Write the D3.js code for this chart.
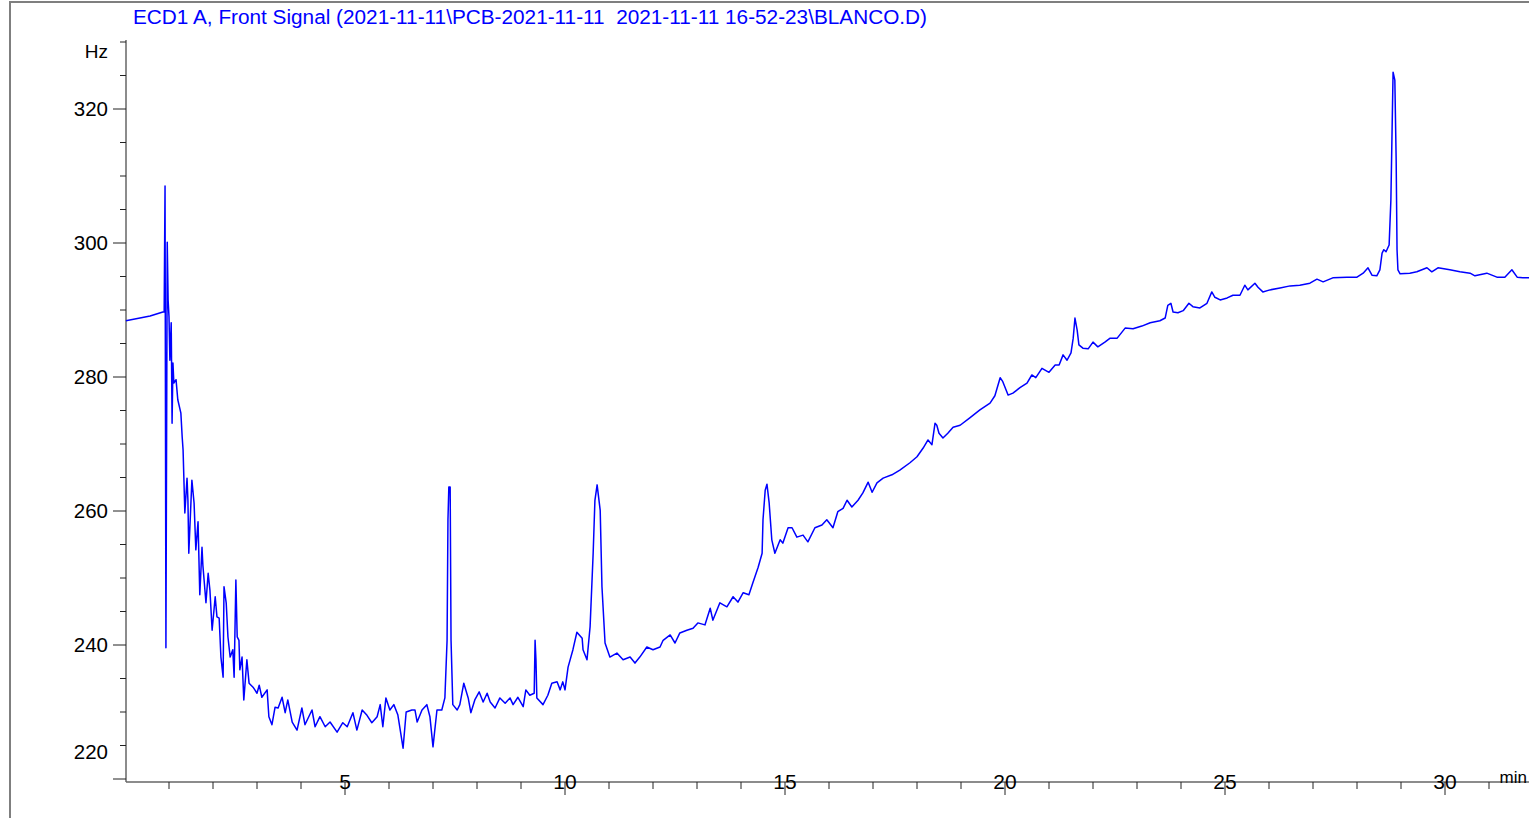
<!DOCTYPE html>
<html>
<head>
<meta charset="utf-8">
<script src="https://cdn.jsdelivr.net/npm/d3@7"></script>
<style>
  html, body { margin: 0; padding: 0; background: #fff; }
  svg { display: block; font-family: "Liberation Sans", Arial, sans-serif; }
</style>
</head>
<body>
<svg id="chart" width="1529" height="818"></svg>
<script>
const chartTitle = "ECD1 A, Front Signal (2021-11-11\\PCB-2021-11-11  2021-11-11 16-52-23\\BLANCO.D)";
const yUnit = "Hz";
const xUnit = "min";
const yMajorTicks = [320, 300, 280, 260, 240, 220];
const yMinorTicks = [330, 325, 315, 310, 305, 295, 290, 285, 275, 270, 265, 255, 250, 245, 235, 230, 225];
const xMajorTicks = [5, 10, 15, 20, 25, 30];
const xMinorTicks = [1,2,3,4,6,7,8,9,11,12,13,14,16,17,18,19,21,22,23,24,26,27,28,29,31];

const timeMin = [0.02,0.34,0.57,0.86,0.89,0.91,0.93,0.96,0.98,1.00,1.02,1.05,1.07,1.09,1.11,1.16,1.20,1.27,1.30,1.32,
1.36,1.41,1.43,1.45,1.52,1.57,1.61,1.66,1.70,1.75,1.77,1.84,1.89,1.93,1.98,2.05,2.09,2.14,2.18,2.23,
2.25,2.30,2.34,2.39,2.45,2.48,2.52,2.55,2.59,2.61,2.66,2.70,2.77,2.82,2.91,3.00,3.05,3.11,3.23,3.27,
3.34,3.41,3.48,3.57,3.64,3.70,3.80,3.91,4.02,4.09,4.25,4.32,4.43,4.55,4.66,4.82,4.95,5.05,5.18,5.27,
5.39,5.50,5.61,5.73,5.80,5.86,5.93,6.02,6.11,6.20,6.32,6.39,6.52,6.59,6.64,6.75,6.86,6.93,7.00,7.09,
7.20,7.27,7.32,7.34,7.36,7.39,7.41,7.45,7.55,7.61,7.70,7.80,7.86,7.95,8.05,8.14,8.23,8.30,8.41,8.52,
8.64,8.75,8.82,8.93,9.05,9.11,9.20,9.30,9.32,9.34,9.36,9.50,9.61,9.70,9.82,9.89,9.95,10.00,10.07,10.18,
10.27,10.39,10.41,10.50,10.57,10.64,10.68,10.73,10.80,10.84,10.91,11.02,11.18,11.32,11.48,11.59,11.70,11.86,12.00,12.16,
12.23,12.39,12.50,12.61,12.77,12.91,13.02,13.18,13.30,13.36,13.52,13.68,13.82,13.93,14.05,14.18,14.27,14.39,14.48,14.50,
14.55,14.59,14.64,14.70,14.77,14.89,14.95,15.07,15.16,15.27,15.41,15.52,15.68,15.84,15.95,16.09,16.20,16.32,16.41,16.52,
16.66,16.77,16.89,16.98,17.09,17.23,17.43,17.61,17.84,18.00,18.14,18.25,18.34,18.41,18.45,18.50,18.59,18.70,18.82,18.98,
19.20,19.43,19.66,19.77,19.89,19.95,20.07,20.18,20.34,20.50,20.61,20.70,20.84,21.00,21.14,21.23,21.32,21.41,21.50,21.55,
21.59,21.64,21.68,21.77,21.89,22.00,22.11,22.27,22.39,22.55,22.73,22.91,23.11,23.30,23.52,23.64,23.70,23.77,23.82,23.93,
24.05,24.18,24.27,24.43,24.59,24.70,24.77,24.89,25.05,25.18,25.34,25.45,25.52,25.68,25.75,25.86,26.02,26.25,26.48,26.70,
26.93,27.09,27.23,27.45,27.77,28.00,28.14,28.25,28.34,28.45,28.52,28.57,28.61,28.66,28.73,28.77,28.82,28.86,28.89,28.91,
28.93,28.98,29.20,29.36,29.59,29.70,29.84,30.11,30.34,30.57,30.68,30.95,31.18,31.36,31.52,31.64,31.77,31.91];

const signalHz = [288.4,288.8,289.1,289.7,289.7,308.5,239.6,300.1,291.5,289.0,282.5,288.1,273.1,282.1,279.1,279.6,276.6,274.6,271.0,269.1,
259.7,264.9,261.6,253.7,264.6,261.2,254.2,258.4,247.5,254.6,251.9,246.3,250.7,248.2,242.2,247.2,244.2,244.0,238.2,235.2,
248.7,246.3,241.2,238.2,239.3,235.2,249.7,241.2,240.7,236.3,238.2,231.8,237.8,234.3,233.7,232.8,234.0,232.2,233.3,229.3,
228.1,230.7,230.6,232.2,229.9,231.8,228.5,227.3,230.6,228.1,230.3,227.8,229.3,227.8,228.5,227.0,228.4,227.8,229.9,227.3,
230.3,229.5,228.4,229.3,231.1,227.8,232.1,230.3,231.1,229.6,224.6,230.0,230.3,230.3,228.5,230.3,231.1,229.3,224.8,230.3,
230.3,232.1,240.7,258.7,263.6,263.6,240.7,231.1,230.3,231.1,234.3,232.1,229.9,231.8,233.0,231.5,232.8,231.5,230.6,232.1,
231.3,232.1,231.1,232.2,230.8,233.3,232.5,232.8,240.7,237.8,232.1,231.1,232.5,234.3,234.5,233.3,234.5,233.3,236.7,239.3,
241.9,241.0,239.3,237.8,242.7,253.7,261.6,263.9,260.1,248.7,240.3,238.2,238.8,237.8,238.2,237.3,238.2,239.7,239.3,239.7,
240.7,241.5,240.3,241.8,242.2,242.5,243.3,243.0,245.5,243.7,246.3,245.7,247.2,246.4,247.8,247.5,249.3,251.6,253.7,258.7,
263.1,264.0,261.2,255.7,253.7,255.7,255.2,257.5,257.5,256.1,256.4,255.4,257.5,257.9,258.7,257.5,259.9,260.4,261.6,260.6,
261.6,262.7,264.3,262.8,264.2,264.9,265.4,266.1,267.2,268.1,269.4,270.6,269.9,273.1,272.8,271.6,270.9,271.6,272.5,272.8,
273.9,275.1,276.1,277.2,279.9,279.3,277.3,277.6,278.4,279.1,280.3,279.9,281.3,280.7,281.8,281.8,283.3,282.5,283.6,285.8,
288.8,287.0,284.8,284.3,284.2,285.2,284.5,285.2,285.8,285.8,287.3,287.2,287.6,288.1,288.4,288.8,290.7,291.0,289.7,289.6,
289.9,291.0,290.5,290.3,291.0,292.7,291.9,291.5,291.8,292.2,292.2,293.7,293.0,294.0,293.4,292.7,293.0,293.3,293.6,293.7,
294.0,294.6,294.2,294.8,294.9,294.9,295.5,296.3,295.2,295.1,296.0,298.5,299.0,298.7,299.7,306.4,325.5,324.3,312.4,299.0,
296.0,295.4,295.5,295.7,296.3,295.7,296.3,296.0,295.7,295.5,295.1,295.5,294.9,294.9,296.0,294.9,294.8,294.8];

const data = timeMin.map((t, i) => ({ t, v: signalHz[i] }));

const svg = d3.select("#chart");
const W = 1529, H = 818;
const axisX = 126, axisY = 782;

const x = d3.scaleLinear().domain([0, 30]).range([125, 1445]);
const y = d3.scaleLinear().domain([220, 320]).range([779, 109]);

// outer frame (left and top edges)
svg.append("path")
  .attr("d", `M10,${H} L10,2 L${W},2`)
  .attr("fill", "none").attr("stroke", "#7f7f7f").attr("stroke-width", 2);

// title
svg.append("text")
  .attr("x", 133).attr("y", 24)
  .attr("fill", "#0000ff")
  .attr("font-size", 19.5)
  .attr("textLength", 794)
  .attr("lengthAdjust", "spacingAndGlyphs")
  .style("white-space", "pre")
  .attr("xml:space", "preserve")
  .text(chartTitle);

// Y axis
const gY = svg.append("g");
gY.append("line").attr("x1", axisX).attr("x2", axisX)
  .attr("y1", y(330.3)).attr("y2", axisY)
  .attr("stroke", "#666").attr("stroke-width", 1.5);
gY.selectAll("line.minor").data(yMinorTicks).join("line")
  .attr("class", "minor")
  .attr("x1", axisX - 6).attr("x2", axisX)
  .attr("y1", d => y(d)).attr("y2", d => y(d))
  .attr("stroke", "#222").attr("stroke-width", 1);
gY.selectAll("line.major").data(yMajorTicks).join("line")
  .attr("class", "major")
  .attr("x1", axisX - 13).attr("x2", axisX)
  .attr("y1", d => y(d)).attr("y2", d => y(d))
  .attr("stroke", "#222").attr("stroke-width", 1);
gY.selectAll("text.lab").data(yMajorTicks).join("text")
  .attr("class", "lab")
  .attr("x", 108)
  .attr("y", d => Math.min(y(d), axisY - 30))
  .attr("dy", "0.35em")
  .attr("text-anchor", "end")
  .attr("font-size", 20.5)
  .attr("fill", "#000")
  .text(d => d);
gY.append("text")
  .attr("x", 108).attr("y", 51).attr("dy", "0.35em")
  .attr("text-anchor", "end").attr("font-size", 19).attr("fill", "#000")
  .text(yUnit);

// X axis
const gX = svg.append("g");
gX.append("line").attr("x1", axisX).attr("x2", W)
  .attr("y1", axisY).attr("y2", axisY)
  .attr("stroke", "#666").attr("stroke-width", 1.5);
gX.selectAll("line.minor").data(xMinorTicks).join("line")
  .attr("class", "minor")
  .attr("x1", d => x(d)).attr("x2", d => x(d))
  .attr("y1", axisY).attr("y2", axisY + 7)
  .attr("stroke", "#222").attr("stroke-width", 1);
gX.selectAll("line.major").data(xMajorTicks).join("line")
  .attr("class", "major")
  .attr("x1", d => x(d)).attr("x2", d => x(d))
  .attr("y1", axisY).attr("y2", axisY + 13)
  .attr("stroke", "#222").attr("stroke-width", 1);
gX.selectAll("text.lab").data(xMajorTicks).join("text")
  .attr("class", "lab")
  .attr("x", d => x(d)).attr("y", axisY).attr("dy", "0.35em")
  .attr("text-anchor", "middle").attr("font-size", 21).attr("fill", "#000")
  .text(d => d);
gX.append("text")
  .attr("x", 1527).attr("y", 783)
  .attr("text-anchor", "end")
  .attr("font-size", 17).attr("fill", "#000")
  .text(xUnit);

// trace
const line = d3.line().x(d => x(d.t)).y(d => y(d.v));
svg.append("path")
  .datum(data)
  .attr("d", line)
  .attr("fill", "none")
  .attr("stroke", "#0000ff")
  .attr("stroke-width", 1.5)
  .attr("stroke-linejoin", "round");
</script>
</body>
</html>
